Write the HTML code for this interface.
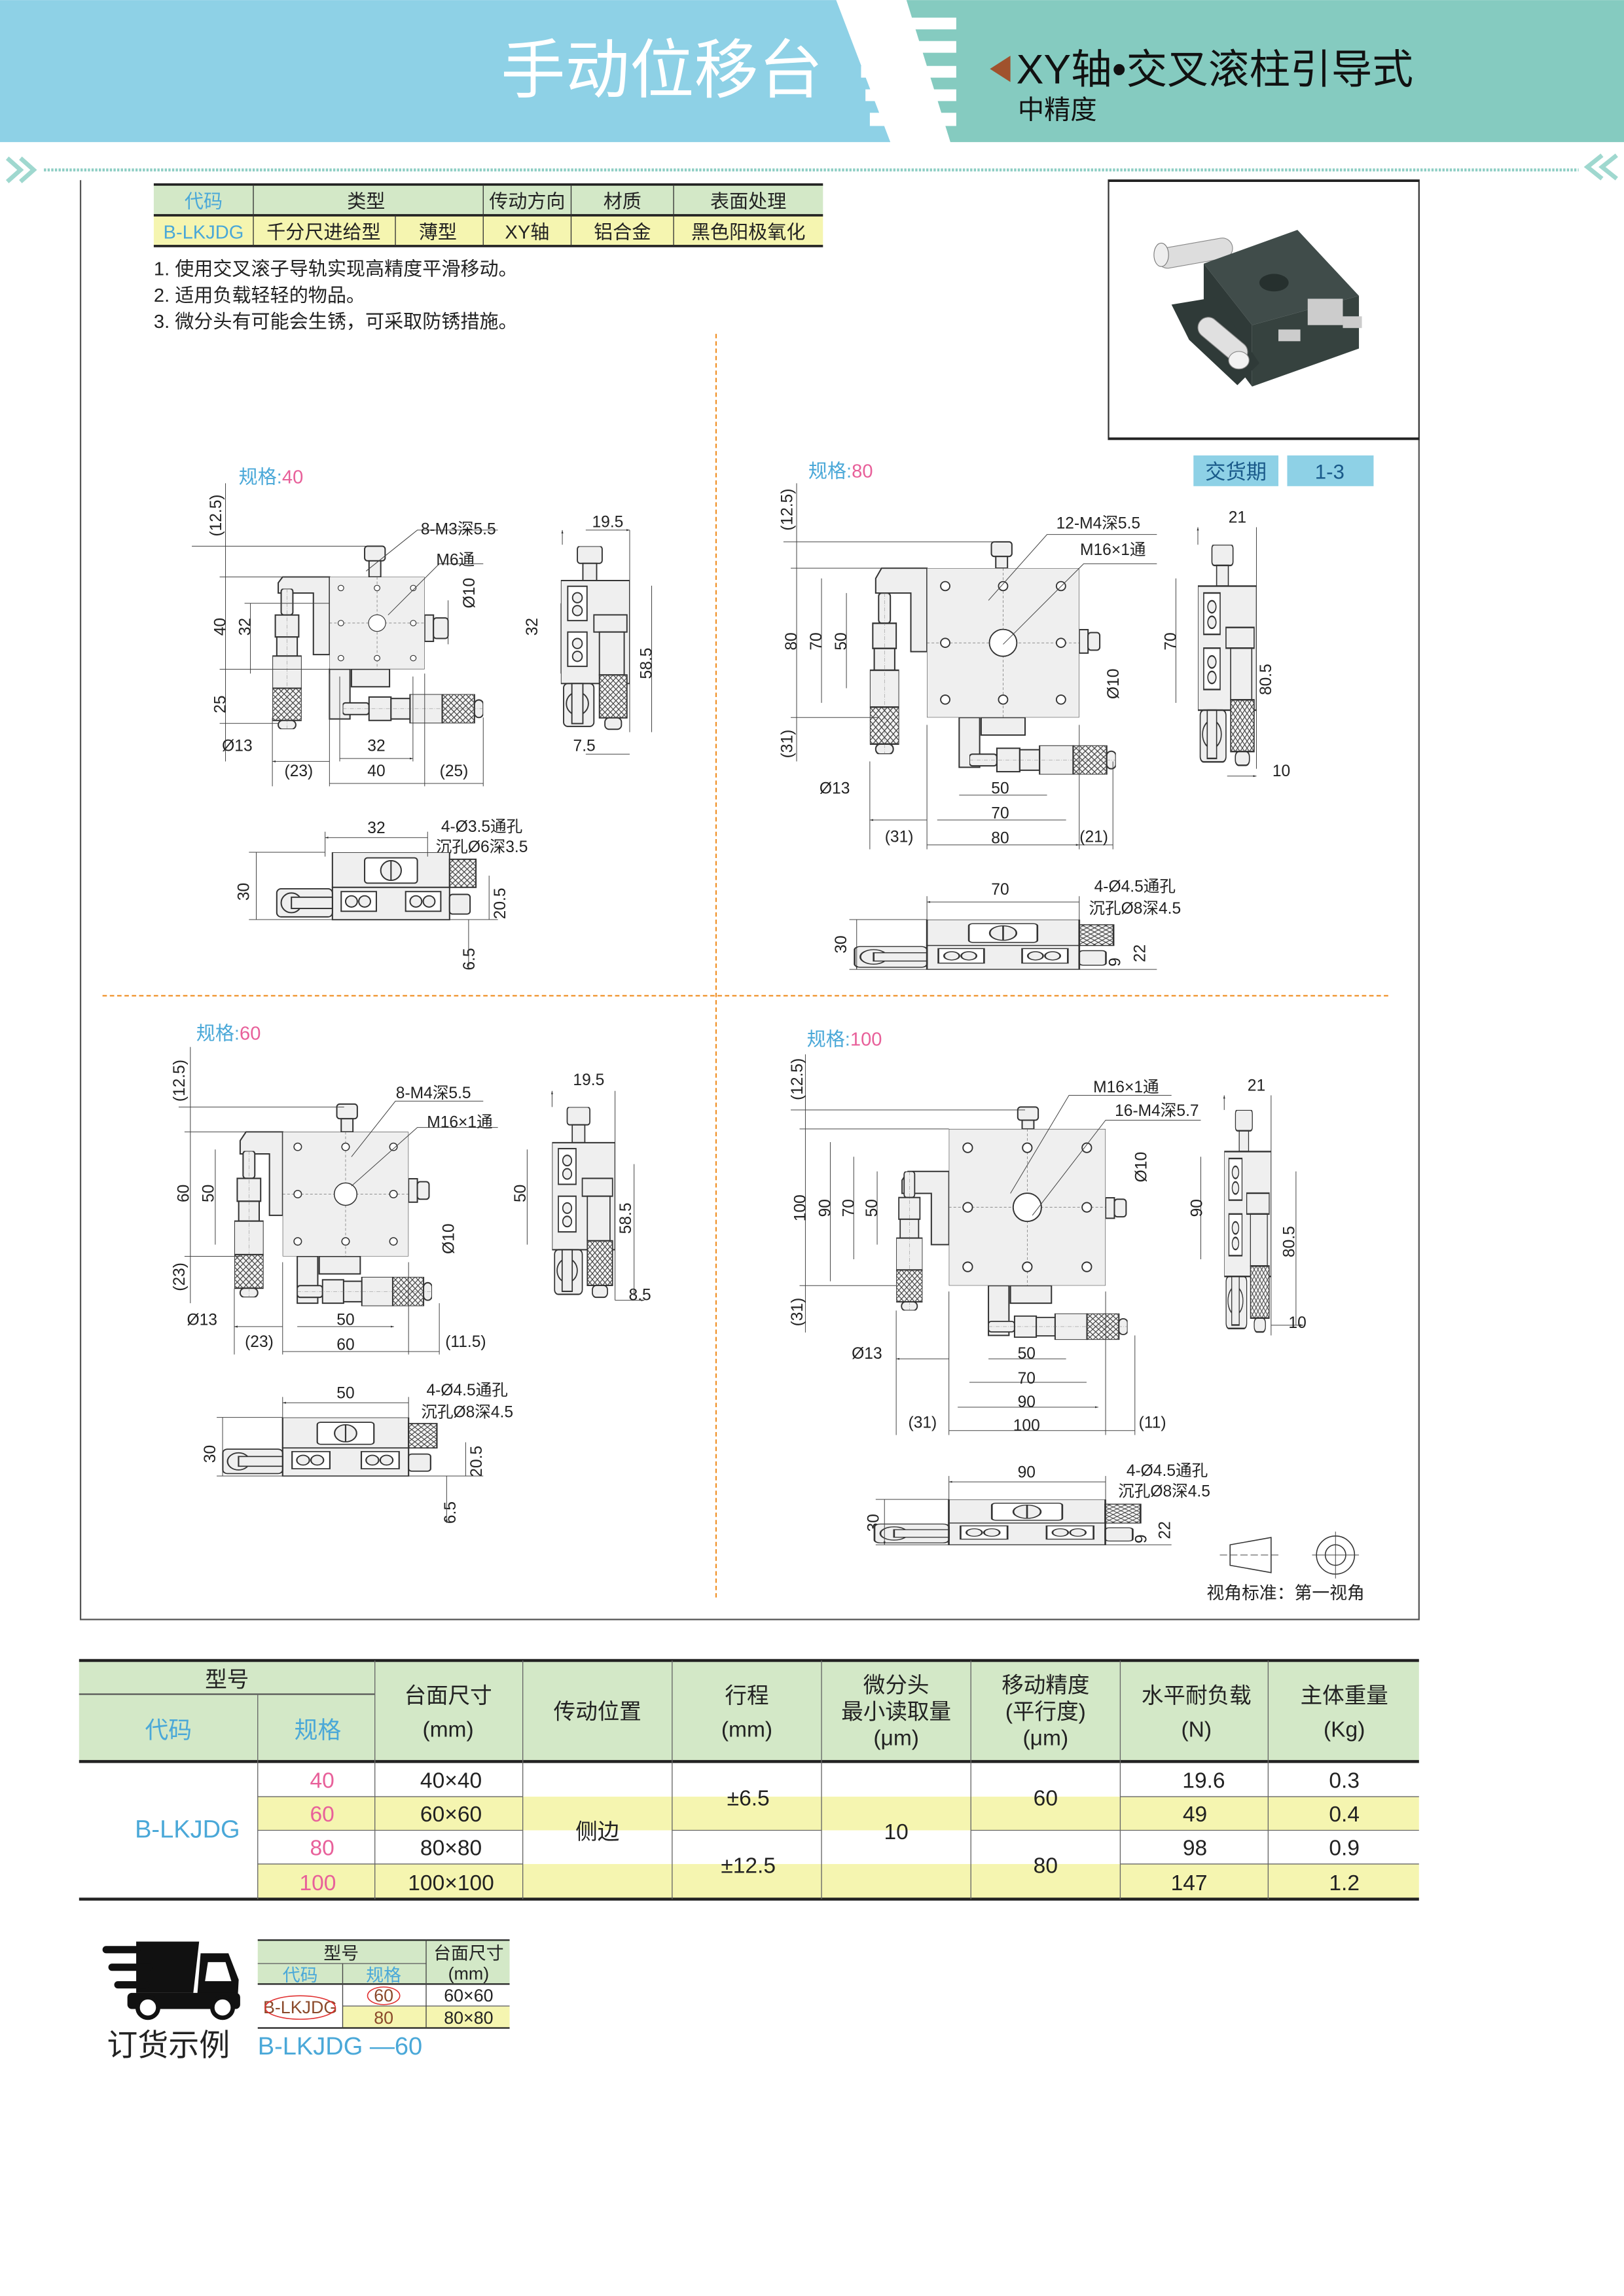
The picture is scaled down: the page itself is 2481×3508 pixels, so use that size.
<!DOCTYPE html>
<html><head><meta charset="utf-8"><style>
html,body{margin:0;padding:0;background:#fff}
svg{display:block}
.t{font-family:"Liberation Sans","Noto Sans CJK SC",sans-serif;fill:#222}
.d{font-family:"Liberation Sans","Noto Sans CJK SC",sans-serif;font-size:11px;fill:#222}
.b{fill:#4aa8d8}.p{fill:#e8609a}
.ln{stroke:#333;stroke-width:.6;fill:none}
.dm{stroke:#444;stroke-width:.45;fill:none}
.pt{fill:#efefef;stroke:#333;stroke-width:.9}
</style></head><body>
<svg width="2481" height="3508" viewBox="0 0 1109 1568" xmlns="http://www.w3.org/2000/svg">
<defs>
<pattern id="kn" width="4" height="4" patternUnits="userSpaceOnUse">
<rect width="4" height="4" fill="#f4f4f4"/><path d="M0,0L4,4M4,0L0,4" stroke="#333" stroke-width=".5"/></pattern>
<marker id="ar" viewBox="0 0 10 10" refX="10" refY="5" markerWidth="5" markerHeight="5" orient="auto-start-reverse"><path d="M0,2L10,5L0,8z" fill="#333"/></marker>
<symbol id="tv" viewBox="0 0 100 100" preserveAspectRatio="none">
<rect x="0" y="0" width="100" height="100" fill="#efefef" stroke="#333" stroke-width="1.1" vector-effect="non-scaling-stroke"/>
<path d="M50,0V100M0,50H100" stroke="#555" stroke-dasharray="4,3" stroke-width=".6" vector-effect="non-scaling-stroke"/>
<g fill="#fff" stroke="#333" stroke-width=".8" vector-effect="non-scaling-stroke">
<circle cx="12" cy="12" r="3"/><circle cx="50" cy="12" r="3"/><circle cx="88" cy="12" r="3"/><circle cx="12" cy="50" r="3"/><circle cx="88" cy="50" r="3"/><circle cx="12" cy="88" r="3"/><circle cx="50" cy="88" r="3"/><circle cx="88" cy="88" r="3"/><circle cx="50" cy="50" r="9"/></g>
</symbol>
<symbol id="mic" viewBox="0 0 96 20" preserveAspectRatio="none">
<g stroke="#333" stroke-width=".9" vector-effect="non-scaling-stroke">
<rect x="0" y="6" width="18" height="8" rx="2" fill="#efefef"/>
<rect x="18" y="2" width="15" height="16" fill="#efefef"/>
<rect x="33" y="3" width="13" height="14" fill="#efefef"/>
<rect x="46" y="0" width="22" height="20" fill="#efefef"/>
<rect x="68" y="0" width="22" height="20" fill="url(#kn)"/>
<rect x="90" y="4" width="6" height="12" rx="3" fill="#efefef"/>
</g><path d="M0,10H96" stroke="#666" stroke-dasharray="6,2,1,2" stroke-width=".4" vector-effect="non-scaling-stroke"/>
</symbol>
<symbol id="sv" viewBox="0 0 50 130" preserveAspectRatio="none">
<g stroke="#333" stroke-width=".9" vector-effect="non-scaling-stroke" fill="#efefef">
<rect x="12" y="0" width="18" height="12" rx="2"/><rect x="16" y="12" width="10" height="12"/>
<rect x="0" y="24" width="50" height="72"/>
<rect x="5" y="28" width="14" height="24" fill="#fff"/><circle cx="12" cy="36" r="3.5"/><circle cx="12" cy="45" r="3.5"/>
<rect x="5" y="60" width="14" height="24" fill="#fff"/><circle cx="12" cy="68" r="3.5"/><circle cx="12" cy="77" r="3.5"/>
<rect x="24" y="48" width="24" height="12"/>
<rect x="28" y="60" width="18" height="30"/>
<rect x="28" y="90" width="20" height="30" fill="url(#kn)"/>
<rect x="32" y="120" width="12" height="8" rx="3"/>
<rect x="2" y="96" width="22" height="30" rx="3"/><circle cx="12" cy="110" r="8"/><rect x="8" y="96" width="8" height="28"/>
</g></symbol>
<symbol id="fv" viewBox="0 0 140 50" preserveAspectRatio="none">
<g stroke="#333" stroke-width=".9" vector-effect="non-scaling-stroke" fill="#efefef">
<rect x="40" y="0" width="80" height="25"/>
<rect x="40" y="25" width="80" height="23"/>
<rect x="62" y="4" width="36" height="18" rx="2" fill="#fff"/>
<circle cx="80" cy="13" r="7"/><path d="M80,6V20" />
<rect x="46" y="28" width="24" height="14" fill="#fff"/><circle cx="53" cy="35" r="4"/><circle cx="62" cy="35" r="4"/>
<rect x="90" y="28" width="24" height="14" fill="#fff"/><circle cx="97" cy="35" r="4"/><circle cx="106" cy="35" r="4"/>
<rect x="2" y="26" width="38" height="20" rx="3"/><circle cx="12" cy="36" r="7"/><rect x="12" y="32" width="28" height="8"/>
<rect x="120" y="5" width="18" height="20" fill="url(#kn)"/>
<rect x="120" y="30" width="14" height="14" rx="2"/>
</g></symbol>
</defs>

<!-- HEADER -->
<rect x="0" y="0" width="1109" height="97" fill="#fff"/>
<polygon points="0,0 571,0 608,97 0,97" fill="#8ed1e6"/>
<polygon points="619,0 1109,0 1109,97 649,97" fill="#85cbc0"/>
<g fill="#fff"><rect x="582" y="12" width="71" height="8"/><rect x="585" y="28" width="68" height="8"/><rect x="588" y="45" width="65" height="8"/><rect x="591" y="61" width="62" height="8"/><rect x="594" y="77" width="59" height="9"/></g>
<text x="452" y="63" text-anchor="middle" class="t" font-size="44" style="fill:#fff">手动位移台</text>
<polygon points="676,47 690,38 690,56" fill="#a0522d"/>
<text x="694" y="57" class="t" font-size="28" style="fill:#111">XY轴•交叉滚柱引导式</text>
<text x="695" y="81" class="t" font-size="18" style="fill:#111">中精度</text>

<path d="M30,116H1078" stroke="#8ccdc3" stroke-width="2" stroke-dasharray="1.5,1"/>
<path d="M5,108L14,116L5,124M14,108L23,116L14,124" stroke="#9fd8cf" stroke-width="3" fill="none"/>
<path d="M1104,106L1094,114L1104,122M1094,106L1084,114L1094,122" stroke="#9fd8cf" stroke-width="3" fill="none"/>

<path d="M55,123V1106H969V300" stroke="#555" stroke-width="1" fill="none"/>
<rect x="757" y="123" width="212" height="177" fill="#fff" stroke="#333" stroke-width="1"/>
<path d="M757,123.5H969M757,299.5H969" stroke="#222" stroke-width="1.5"/>
<g transform="translate(0,-12)">
<rect x="790" y="178" width="52" height="14" rx="7" fill="#ddd" stroke="#888" stroke-width=".5" transform="rotate(-10 815 185)"/>
<ellipse cx="793" cy="186" rx="5" ry="8" fill="#eee" stroke="#777" stroke-width=".5"/>
<polygon points="822,192 886,169 928,214 855,234" fill="#404c4a"/>
<polygon points="822,192 855,234 855,276 822,232" fill="#2f3a38"/>
<polygon points="855,234 928,214 928,250 855,276" fill="#36423f"/>
<ellipse cx="870" cy="205" rx="10" ry="6" fill="#26302e"/>
<polygon points="800,220 830,215 860,260 845,275 812,244" fill="#2f3a38"/>
<rect x="815" y="237" width="40" height="14" rx="7" fill="#e0e0e0" stroke="#888" stroke-width=".5" transform="rotate(40 835 244)"/>
<ellipse cx="846" cy="258" rx="7" ry="6" fill="#f2f2f2" stroke="#888" stroke-width=".5"/>
<rect x="893" y="216" width="24" height="18" fill="#ccc"/>
<rect x="873" y="237" width="15" height="8" fill="#ccc"/><rect x="917" y="228" width="13" height="8" fill="#ccc"/>
</g>

<rect x="105" y="126" width="457" height="21" fill="#d3e8c7"/>
<rect x="105" y="147" width="457" height="21" fill="#f5f5b0"/>
<path d="M105,126H562M105,147H562M105,168H562" stroke="#222" stroke-width="1.6"/>
<path d="M173,126V168M330,126V168M390,126V168M460,126V168M270,147V168" stroke="#333" stroke-width=".6"/>
<g class="t" font-size="13" text-anchor="middle">
<text x="139" y="142" style="fill:#4aa8d8">代码</text><text x="250" y="142">类型</text><text x="360" y="142">传动方向</text><text x="425" y="142">材质</text><text x="511" y="142">表面处理</text>
<text x="139" y="163" style="fill:#4aa8d8">B-LKJDG</text><text x="221" y="163">千分尺进给型</text><text x="299" y="163">薄型</text><text x="360" y="163">XY轴</text><text x="425" y="163">铝合金</text><text x="511" y="163">黑色阳极氧化</text>
</g>
<g class="t" font-size="13"><text x="105" y="188">1. 使用交叉滚子导轨实现高精度平滑移动。</text><text x="105" y="206">2. 适用负载轻轻的物品。</text><text x="105" y="224">3. 微分头有可能会生锈，可采取防锈措施。</text></g>

<path d="M489,228V1092M70,680H950" stroke="#f0922a" stroke-width="1" stroke-dasharray="3,2"/>

<rect x="815" y="311" width="58" height="21" fill="#8ed1e6"/><rect x="879" y="311" width="59" height="21" fill="#8ed1e6"/>
<text x="844" y="327" text-anchor="middle" class="t" font-size="14" style="fill:#1a5a8a">交货期</text>
<text x="908" y="327" text-anchor="middle" class="t" font-size="14" style="fill:#1a5a8a">1-3</text>

<!-- Q40 -->
<text x="163" y="330" class="t" font-size="13"><tspan class="b">规格:</tspan><tspan class="p">40</tspan></text>
<rect x="249" y="373" width="14" height="10" rx="2" class="pt"/><rect x="252" y="383" width="8" height="11" class="pt"/>
<path d="M225,394H193L190,398V405H214V447H225Z" class="pt"/>
<rect x="225" y="457" width="14" height="34" class="pt"/><rect x="240" y="457" width="26" height="12" class="pt"/>
<rect x="290" y="420" width="6" height="18" class="pt"/><rect x="296" y="422" width="10" height="14" rx="2" class="pt"/>
<use href="#tv" x="225" y="394" width="65" height="63"/>
<use href="#mic" transform="translate(206,402) rotate(90)" width="96" height="20"/>
<use href="#mic" x="234" y="474" width="96" height="20"/>
<g class="dm">
<path d="M154,330V520M171,412V460M131,373H250M150,394H225M167,412H225M150,457H225M150,494H190" />
<path d="M186,520H225M225,535H290M290,535H330M232,518H282" marker-start="url(#ar)" marker-end="url(#ar)"/>
<path d="M186,490V537M225,460V537M290,460V537M330,490V537M232,462V520M282,462V520M306,410V440"/>
<path d="M250,390L285,362H340M265,420L300,385H330"/>
<path d="M384,362V372M430,362V500M383,412V460M445,400V500M400,515H430M400,362H430" marker-start="url(#ar)" marker-end="url(#ar)"/>
</g>
<g class="d" text-anchor="middle">
<text transform="translate(151,352) rotate(-90)">(12.5)</text>
<text transform="translate(154,428) rotate(-90)">40</text><text transform="translate(171,428) rotate(-90)">32</text><text transform="translate(154,481) rotate(-90)">25</text>
<text x="162" y="513">Ø13</text><text x="257" y="513">32</text><text x="257" y="530">40</text><text x="204" y="530">(23)</text><text x="310" y="530">(25)</text>
<text x="313" y="365">8-M3深5.5</text><text x="311" y="386">M6通</text><text transform="translate(324,405) rotate(-90)">Ø10</text>
<text x="415" y="360">19.5</text><text transform="translate(367,428) rotate(-90)">32</text><text transform="translate(445,453) rotate(-90)">58.5</text><text x="399" y="513">7.5</text>
<text x="257" y="569">32</text><text x="329" y="568">4-Ø3.5通孔</text><text x="329" y="582">沉孔Ø6深3.5</text>
<text transform="translate(170,609) rotate(-90)">30</text><text transform="translate(345,617) rotate(-90)">20.5</text><text transform="translate(324,655) rotate(-90)">6.5</text>
</g>
<use href="#sv" x="383" y="373" width="47" height="127"/>
<use href="#fv" x="187" y="582" width="140" height="48"/>
<g class="dm"><path d="M222,572H292M175,582V628M334,598V628M320,628V660" marker-start="url(#ar)" marker-end="url(#ar)"/><path d="M170,582H222M170,628H340M222,568V585M292,568V585"/></g>

<!-- Q80 -->
<text x="552" y="326" class="t" font-size="13"><tspan class="b">规格:</tspan><tspan class="p">80</tspan></text>
<rect x="677" y="370" width="14" height="10" rx="2" class="pt"/><rect x="680" y="380" width="8" height="8" class="pt"/>
<path d="M633,388H602L598,395V405H622V445H633Z" class="pt"/>
<rect x="655" y="490" width="14" height="34" class="pt"/><rect x="670" y="490" width="30" height="12" class="pt"/>
<rect x="737" y="430" width="6" height="16" class="pt"/><rect x="743" y="432" width="8" height="12" rx="2" class="pt"/>
<use href="#tv" x="633" y="388" width="104" height="102"/>
<use href="#mic" transform="translate(614,405) rotate(90)" width="110" height="20"/>
<use href="#mic" x="662" y="509" width="100" height="20"/>
<g class="dm">
<path d="M544,330V520M561,395V480M578,405V470M535,370H680M540,388H633M540,490H600"/>
<path d="M594,560H633M633,577H737M737,577H760M655,543H715M640,560H728M633,577H737" marker-start="url(#ar)" marker-end="url(#ar)"/>
<path d="M594,520V580M633,495V580M737,495V580M760,520V580"/>
<path d="M675,410L715,365H790M685,440L740,385H790"/>
<path d="M818,360V372M858,360V525M803,395V480M850,410V520M838,530H858" marker-start="url(#ar)" marker-end="url(#ar)"/>
</g>
<g class="d" text-anchor="middle">
<text transform="translate(541,348) rotate(-90)">(12.5)</text>
<text transform="translate(544,438) rotate(-90)">80</text><text transform="translate(561,438) rotate(-90)">70</text><text transform="translate(578,438) rotate(-90)">50</text><text transform="translate(541,508) rotate(-90)">(31)</text>
<text x="570" y="542">Ø13</text><text x="683" y="542">50</text><text x="683" y="559">70</text><text x="614" y="575">(31)</text><text x="683" y="576">80</text><text x="747" y="575">(21)</text>
<text x="750" y="361">12-M4深5.5</text><text x="760" y="379">M16×1通</text><text transform="translate(764,467) rotate(-90)">Ø10</text>
<text x="845" y="357">21</text><text transform="translate(803,438) rotate(-90)">70</text><text transform="translate(868,464) rotate(-90)">80.5</text><text x="875" y="530">10</text>
<text x="683" y="611">70</text><text x="775" y="609">4-Ø4.5通孔</text><text x="775" y="624">沉孔Ø8深4.5</text>
<text transform="translate(578,645) rotate(-90)">30</text><text transform="translate(765,657) rotate(-90)">9</text><text transform="translate(782,651) rotate(-90)">22</text>
</g>
<use href="#sv" x="818" y="372" width="40" height="153"/>
<use href="#fv" x="581" y="628" width="182" height="35.4"/>
<g class="dm"><path d="M633,616H737M585,628V662" marker-start="url(#ar)" marker-end="url(#ar)"/><path d="M580,628H633M580,662H790M633,612V628M737,612V628"/></g>

<!-- Q60 -->
<text x="134" y="710" class="t" font-size="13"><tspan class="b">规格:</tspan><tspan class="p">60</tspan></text>
<rect x="230" y="754" width="14" height="10" rx="2" class="pt"/><rect x="233" y="764" width="8" height="9" class="pt"/>
<path d="M193,773H168L164,779V788H184V830H193Z" class="pt"/>
<rect x="203" y="858" width="14" height="32" class="pt"/><rect x="218" y="858" width="28" height="12" class="pt"/>
<rect x="279" y="805" width="6" height="16" class="pt"/><rect x="285" y="807" width="8" height="12" rx="2" class="pt"/>
<use href="#tv" x="193" y="773" width="86" height="85"/>
<use href="#mic" transform="translate(180,786) rotate(90)" width="100" height="20"/>
<use href="#mic" x="203" y="872" width="92" height="20"/>
<g class="dm">
<path d="M130,715V890M147,785V850M122,756H235M126,773H193M126,858H165"/>
<path d="M160,906H193M193,923H279M279,923H300M203,906H269" marker-start="url(#ar)" marker-end="url(#ar)"/>
<path d="M160,880V925M193,862V925M279,862V925M300,890V925"/>
<path d="M240,790L270,752H330M240,810L285,770H340"/>
<path d="M377,745V756M420,745V888M360,785V850M433,795V885M420,888H440" marker-start="url(#ar)" marker-end="url(#ar)"/>
</g>
<g class="d" text-anchor="middle">
<text transform="translate(126,738) rotate(-90)">(12.5)</text>
<text transform="translate(129,815) rotate(-90)">60</text><text transform="translate(146,815) rotate(-90)">50</text><text transform="translate(126,872) rotate(-90)">(23)</text>
<text x="138" y="905">Ø13</text><text x="236" y="905">50</text><text x="177" y="920">(23)</text><text x="236" y="922">60</text><text x="318" y="920">(11.5)</text>
<text x="296" y="750">8-M4深5.5</text><text x="314" y="770">M16×1通</text><text transform="translate(310,846) rotate(-90)">Ø10</text>
<text x="402" y="741">19.5</text><text transform="translate(359,815) rotate(-90)">50</text><text transform="translate(431,832) rotate(-90)">58.5</text><text x="437" y="888">8.5</text>
<text x="236" y="955">50</text><text x="319" y="953">4-Ø4.5通孔</text><text x="319" y="968">沉孔Ø8深4.5</text>
<text transform="translate(147,993) rotate(-90)">30</text><text transform="translate(329,998) rotate(-90)">20.5</text><text transform="translate(311,1033) rotate(-90)">6.5</text>
</g>
<use href="#sv" x="377" y="756" width="43" height="132"/>
<use href="#fv" x="150" y="968" width="150.5" height="41.7"/>
<g class="dm"><path d="M193,958H279M152,968V1008M318,985V1008M305,1008V1040" marker-start="url(#ar)" marker-end="url(#ar)"/><path d="M148,968H193M148,1008H330M193,954V968M279,954V968"/></g>

<!-- Q100 -->
<text x="551" y="714" class="t" font-size="13"><tspan class="b">规格:</tspan><tspan class="p">100</tspan></text>
<rect x="695" y="756" width="14" height="9" rx="2" class="pt"/><rect x="698" y="765" width="8" height="6" class="pt"/>
<path d="M648,800H620L616,806V815H636V850H648Z" class="pt"/>
<rect x="675" y="878" width="14" height="34" class="pt"/><rect x="690" y="878" width="28" height="12" class="pt"/>
<rect x="755" y="818" width="6" height="14" class="pt"/><rect x="761" y="819" width="8" height="12" rx="2" class="pt"/>
<use href="#tv" x="648" y="771" width="107" height="107"/>
<use href="#mic" transform="translate(630,800) rotate(90)" width="95" height="18"/>
<use href="#mic" x="675" y="897" width="95" height="18"/>
<g class="dm">
<path d="M550,720V910M567,780V875M583,790V860M599,800V850M540,758H700M546,771H648M546,878H612"/>
<path d="M612,928H648M648,977H755M755,977H775M675,928H728M662,944H742M654,961H750" marker-start="url(#ar)" marker-end="url(#ar)"/>
<path d="M612,895V980M648,882V980M755,882V980M775,912V980"/>
<path d="M690,815L730,748H800M705,830L755,765H820"/>
<path d="M836,748V758M868,748V912M820,790V860M885,800V905M868,905H890" marker-start="url(#ar)" marker-end="url(#ar)"/>
</g>
<g class="d" text-anchor="middle">
<text transform="translate(548,737) rotate(-90)">(12.5)</text>
<text transform="translate(550,825) rotate(-90)">100</text><text transform="translate(567,825) rotate(-90)">90</text><text transform="translate(583,825) rotate(-90)">70</text><text transform="translate(599,825) rotate(-90)">50</text><text transform="translate(548,896) rotate(-90)">(31)</text>
<text x="592" y="928">Ø13</text><text x="701" y="928">50</text><text x="701" y="945">70</text><text x="701" y="961">90</text><text x="630" y="975">(31)</text><text x="701" y="977">100</text><text x="787" y="975">(11)</text>
<text x="769" y="746">M16×1通</text><text x="790" y="762">16-M4深5.7</text><text transform="translate(783,797) rotate(-90)">Ø10</text>
<text x="858" y="745">21</text><text transform="translate(821,825) rotate(-90)">90</text><text transform="translate(884,848) rotate(-90)">80.5</text><text x="886" y="907">10</text>
<text x="701" y="1009">90</text><text x="797" y="1008">4-Ø4.5通孔</text><text x="795" y="1022">沉孔Ø8深4.5</text>
<text transform="translate(600,1040) rotate(-90)">30</text><text transform="translate(783,1051) rotate(-90)">9</text><text transform="translate(799,1045) rotate(-90)">22</text>
</g>
<use href="#sv" x="836" y="758" width="32" height="154"/>
<use href="#fv" x="594.5" y="1024" width="187" height="32.3"/>
<g class="dm"><path d="M648,1012H755M604,1024V1055" marker-start="url(#ar)" marker-end="url(#ar)"/><path d="M598,1024H648M598,1055H800M648,1008V1024M755,1008V1024"/></g>

<polygon points="840,1055 868,1050 868,1074 840,1069" fill="#fff" stroke="#333" stroke-width=".7"/>
<path d="M833,1062H875" class="dm" stroke-dasharray="5,2"/>
<circle cx="912" cy="1062" r="13" fill="none" stroke="#333" stroke-width=".7"/><circle cx="912" cy="1062" r="7" fill="none" stroke="#333" stroke-width=".7"/><path d="M896,1062H928M912,1046V1078" class="dm"/>
<text x="824" y="1092" class="t" font-size="12">视角标准：第一视角</text>

<!-- MAIN TABLE -->
<rect x="54" y="1134" width="915" height="70" fill="#d3e8c7"/>
<rect x="176" y="1227" width="793" height="23" fill="#f5f5b0"/>
<rect x="176" y="1273" width="793" height="24" fill="#f5f5b0"/>
<path d="M54,1134H969M54,1203H969M54,1297H969" stroke="#222" stroke-width="2"/>
<path d="M54,1157H256" stroke="#555" stroke-width="1"/>
<g stroke="#666" stroke-width=".6">
<path d="M176,1157V1297M256,1134V1297M357,1134V1297M459,1134V1297M561,1134V1297M663,1134V1297M765,1134V1297M866,1134V1297"/>
<path d="M176,1227H357M176,1250H357M176,1273H357M765,1227H969M765,1250H969M765,1273H969M459,1250H561M663,1250H765"/>
</g>
<g class="t" font-size="15" text-anchor="middle">
<text x="155" y="1152">型号</text>
<text x="115" y="1187" style="fill:#4aa8d8" font-size="16">代码</text><text x="217" y="1187" style="fill:#4aa8d8" font-size="16">规格</text>
<text x="306" y="1163">台面尺寸</text><text x="306" y="1186">(mm)</text>
<text x="408" y="1174">传动位置</text>
<text x="510" y="1163">行程</text><text x="510" y="1186">(mm)</text>
<text x="612" y="1156">微分头</text><text x="612" y="1174">最小读取量</text><text x="612" y="1192">(μm)</text>
<text x="714" y="1156">移动精度</text><text x="714" y="1174">(平行度)</text><text x="714" y="1192">(μm)</text>
<text x="817" y="1163">水平耐负载</text><text x="817" y="1186">(N)</text>
<text x="918" y="1163">主体重量</text><text x="918" y="1186">(Kg)</text>
<text x="128" y="1255" style="fill:#4aa8d8" font-size="17">B-LKJDG</text>
<text x="220" y="1221" style="fill:#e8609a">40</text><text x="220" y="1244" style="fill:#e8609a">60</text><text x="220" y="1267" style="fill:#e8609a">80</text><text x="217" y="1291" style="fill:#e8609a">100</text>
<text x="308" y="1221">40×40</text><text x="308" y="1244">60×60</text><text x="308" y="1267">80×80</text><text x="308" y="1291">100×100</text>
<text x="408" y="1256">侧边</text>
<text x="511" y="1233">±6.5</text><text x="511" y="1279">±12.5</text>
<text x="612" y="1256">10</text>
<text x="714" y="1233">60</text><text x="714" y="1279">80</text>
<text x="822" y="1221">19.6</text><text x="816" y="1244">49</text><text x="816" y="1267">98</text><text x="812" y="1291">147</text>
<text x="918" y="1221">0.3</text><text x="918" y="1244">0.4</text><text x="918" y="1267">0.9</text><text x="918" y="1291">1.2</text>
</g>

<!-- ORDER EXAMPLE -->
<g fill="#111">
<polygon points="93,1326 136,1326 132,1361 93,1361"/>
<rect x="70" y="1329" width="26" height="5" rx="2.5"/><rect x="74" y="1341" width="30" height="5" rx="2.5"/><rect x="78" y="1353" width="24" height="5" rx="2.5"/>
<polygon points="137,1334 156,1334 163,1352 162,1371 134,1371"/>
<rect x="87" y="1361" width="77" height="11" rx="3"/>
</g>
<polygon points="142,1340 154,1340 158,1353 140,1353" fill="#fff"/>
<circle cx="101" cy="1371" r="7" fill="#fff" stroke="#111" stroke-width="3"/><circle cx="152" cy="1371" r="7" fill="#fff" stroke="#111" stroke-width="3"/>
<text x="115" y="1404" text-anchor="middle" class="t" font-size="21">订货示例</text>

<rect x="176" y="1325" width="172" height="30" fill="#d3e8c7"/>
<rect x="234" y="1370" width="114" height="15" fill="#f5f5b0"/>
<path d="M176,1325H348M176,1355H348M176,1385H348" stroke="#222" stroke-width="1"/>
<path d="M176,1341H291M234,1370H348" stroke="#666" stroke-width=".6"/>
<path d="M234,1341V1385M291,1325V1385" stroke="#444" stroke-width=".6"/>
<g class="t" font-size="12" text-anchor="middle">
<text x="233" y="1338">型号</text><text x="320" y="1338">台面尺寸</text><text x="320" y="1352">(mm)</text>
<text x="205" y="1353" style="fill:#4aa8d8">代码</text><text x="262" y="1353" style="fill:#4aa8d8">规格</text>
<text x="205" y="1375" style="fill:#8b4a2b">B-LKJDG</text>
<text x="262" y="1367" style="fill:#8b4a2b">60</text><text x="262" y="1382" style="fill:#8b4a2b">80</text>
<text x="320" y="1367">60×60</text><text x="320" y="1382">80×80</text>
</g>
<ellipse cx="205" cy="1371" rx="24" ry="8" fill="none" stroke="#e03030" stroke-width=".7"/>
<ellipse cx="262" cy="1363" rx="11" ry="6" fill="none" stroke="#e03030" stroke-width=".7"/>
<text x="176" y="1403" class="t" font-size="17" style="fill:#4aa8d8">B-LKJDG —60</text>
</svg>
</body></html>
